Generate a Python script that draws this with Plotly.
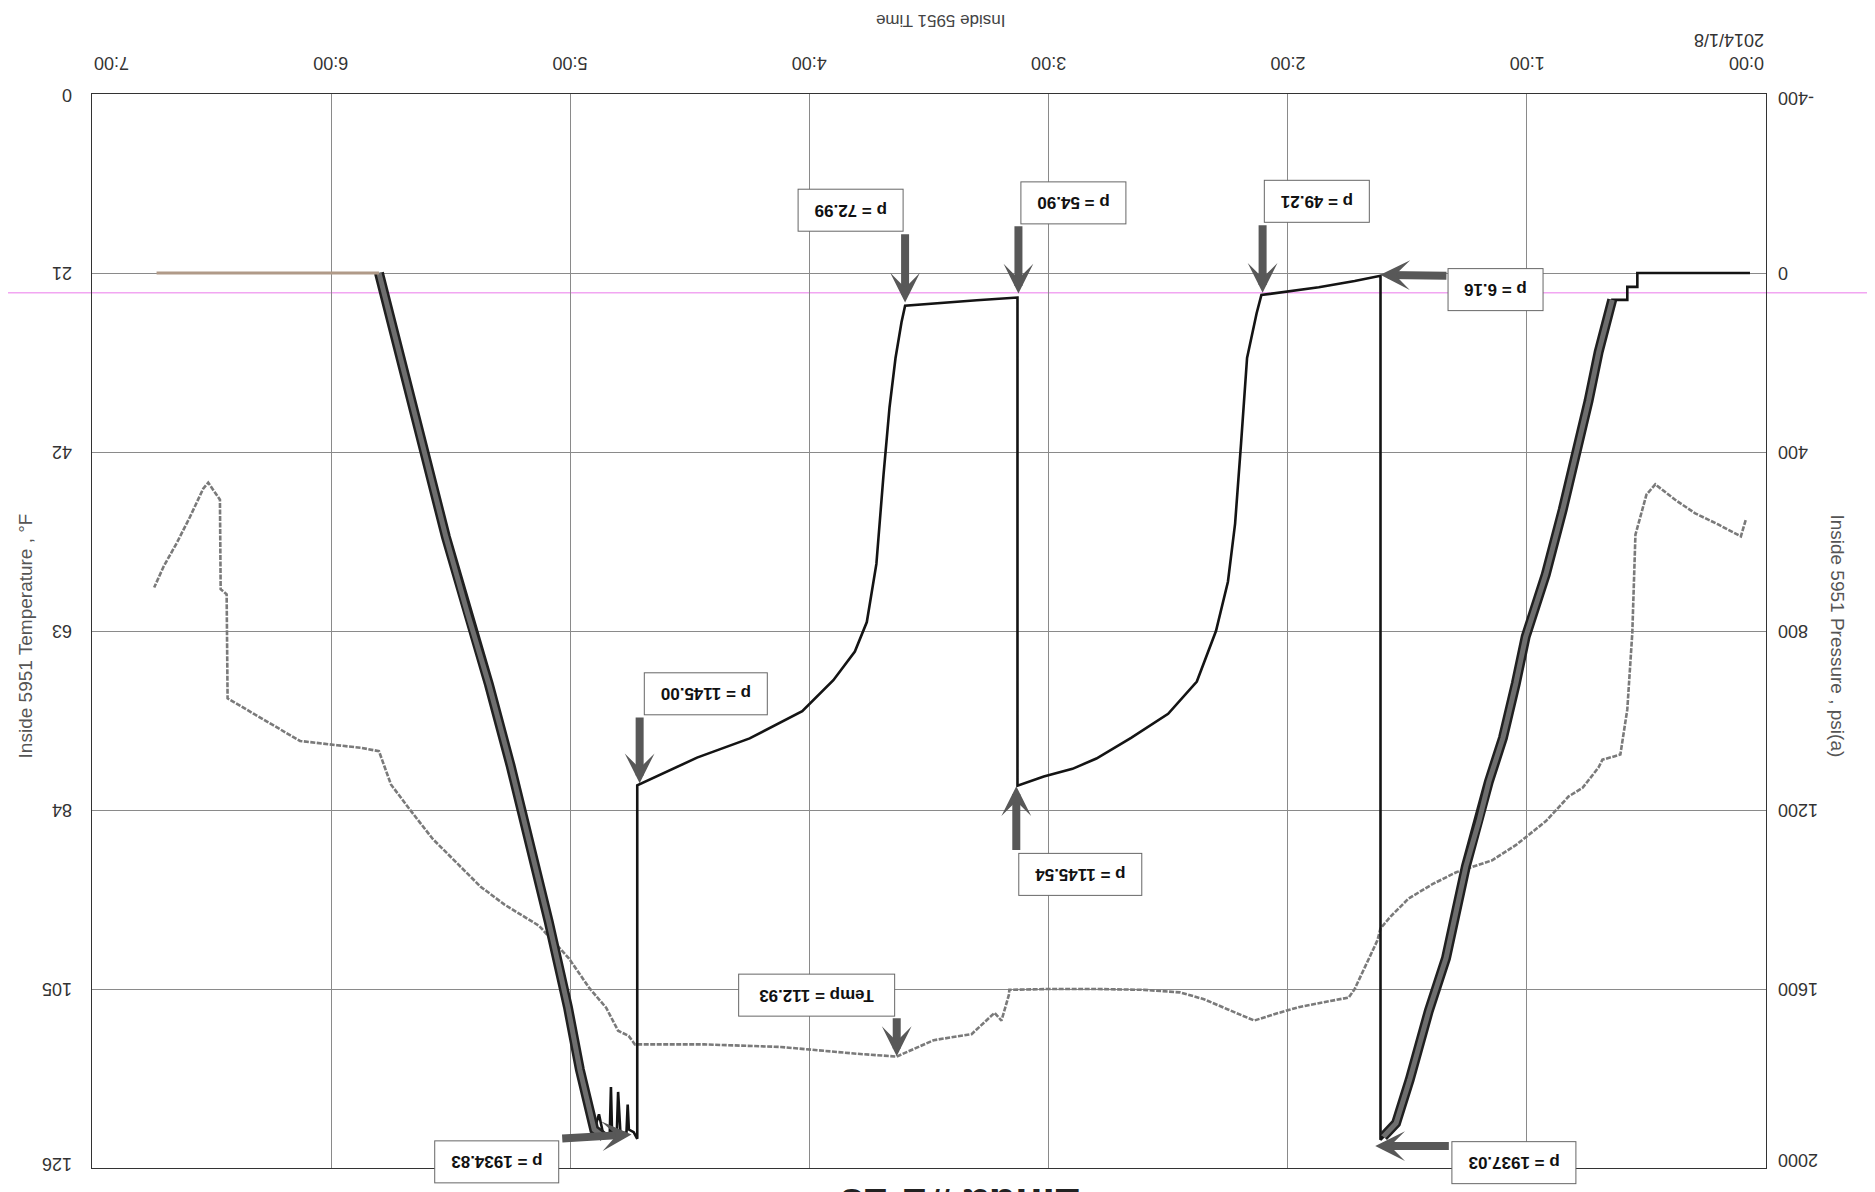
import plotly.graph_objects as go

# ---------------- data ----------------
hour_ticks = [0, 1, 2, 3, 4, 5, 6, 7]
hour_labels = ["0:00<br>2014/1/8", "1:00", "2:00", "3:00", "4:00", "5:00", "6:00", "7:00"]
temp_ticks = [0, 21, 42, 63, 84, 105, 126]
press_ticks = [-400, 0, 400, 800, 1200, 1600, 2000]

# pressure (psi(a)) vs time (hours)
press_t = [0.067, 0.538, 0.538, 0.58, 0.58, 0.643, 0.70, 0.742, 0.804, 0.85, 0.921, 0.963,
           1.005, 1.046, 1.10, 1.159, 1.20, 1.255, 1.338, 1.41, 1.49, 1.547, 1.612, 1.612,
           1.72, 1.87, 2.00, 2.11, 2.13, 2.15, 2.17, 2.195, 2.22, 2.25, 2.30, 2.38, 2.50,
           2.655, 2.80, 2.90, 3.02, 3.13, 3.13, 3.30, 3.45, 3.60, 3.615, 3.64, 3.665, 3.69,
           3.72, 3.76, 3.81, 3.90, 4.03, 4.25, 4.47, 4.62, 4.72, 4.72, 4.735, 4.755, 4.76,
           4.765, 4.79, 4.80, 4.805, 4.825, 4.83, 4.835, 4.86, 4.88, 4.90, 4.96, 5.01, 5.09,
           5.17, 5.25, 5.34, 5.43, 5.52, 5.61, 5.70, 5.80]
press_p = [0, 0, 31, 31, 60, 60, 177, 286, 432, 529, 674, 740,
           813, 917, 1039, 1137, 1224, 1326, 1531, 1649, 1803, 1900, 1937.03, 6.16,
           18, 32, 42, 49.21, 90, 140, 190, 380, 560, 690, 800, 913, 985,
           1039, 1085, 1108, 1125, 1145.54, 54.90, 61, 67, 72.99, 110, 190, 300, 450,
           650, 780, 846, 910, 979, 1040, 1083, 1120, 1145.00, 1934.83, 1920, 1914, 1858,
           1920, 1925, 1830, 1915, 1930, 1819, 1925, 1930, 1880, 1914, 1780, 1640, 1450,
           1270, 1100, 920, 760, 590, 400, 200, 0]

# pressurisation / venting ramps (heavy stepped band)
ramp_up_t = [0.643, 0.70, 0.742, 0.804, 0.85, 0.921, 0.963, 1.005, 1.046, 1.10, 1.159,
             1.20, 1.255, 1.338, 1.41, 1.49, 1.547, 1.60]
ramp_up_p = [60, 177, 286, 432, 529, 674, 740, 813, 917, 1039, 1137,
             1224, 1326, 1531, 1649, 1803, 1900, 1930]
ramp_dn_t = [4.86, 4.90, 4.96, 5.01, 5.09, 5.17, 5.25, 5.34, 5.43, 5.52, 5.61, 5.70, 5.80]
ramp_dn_p = [1930, 1914, 1780, 1640, 1450, 1270, 1100, 920, 760, 590, 400, 200, 0]

# final hold at 0 psi
hold_t = [5.80, 6.73]
hold_p = [0, 0]

# temperature (deg F) vs time (hours)
temp_t = [0.085, 0.105, 0.20, 0.296, 0.38, 0.463, 0.50, 0.546, 0.559, 0.58, 0.609, 0.684,
          0.70, 0.767, 0.825, 0.92, 1.045, 1.145, 1.295, 1.395, 1.495, 1.57, 1.612, 1.625,
          1.67, 1.72, 1.745, 1.85, 1.95, 2.05, 2.14, 2.25, 2.35, 2.45, 2.60, 2.80, 3.00,
          3.164, 3.166, 3.197, 3.226, 3.322, 3.48, 3.635, 3.80, 4.12, 4.44, 4.73, 4.756,
          4.80, 4.85, 4.92, 5.006, 5.13, 5.275, 5.375, 5.475, 5.575, 5.675, 5.75, 5.80,
          5.875, 5.975, 6.13, 6.27, 6.41, 6.433, 6.437, 6.462, 6.465, 6.514, 6.535, 6.59,
          6.646, 6.70, 6.74]
temp_v = [50.0, 51.9, 50.5, 49.2, 47.6, 45.8, 47.0, 51.7, 63.2, 72.2, 77.5, 78.1,
          79.0, 81.4, 82.4, 85.3, 88.1, 89.9, 91.3, 92.7, 94.4, 96.5, 97.9, 99.3,
          102.0, 105.0, 106.0, 106.6, 107.1, 107.9, 108.7, 107.4, 106.2, 105.4, 105.1, 105.0, 105.0,
          105.1, 105.7, 108.7, 107.8, 110.3, 111.0, 112.93, 112.6, 111.8, 111.5, 111.5, 110.5,
          109.9, 107.2, 104.9, 101.4, 97.6, 95.1, 93.0, 90.2, 87.4, 83.8, 81.0, 77.1,
          76.7, 76.4, 75.9, 73.6, 71.2, 70.9, 58.7, 58.1, 47.6, 45.6, 46.3, 49.6,
          52.7, 55.4, 57.9]

# callouts: label, arrow head (t, p), arrow tail (t, p), box centre (t, p)
callout_text = ["p = 6.16", "p = 49.21", "p = 54.90", "p = 72.99", "p = 1145.00",
                "p = 1145.54", "Temp = 112.93", "p = 1934.83", "p = 1937.03"]
callout_head_t = [1.613, 2.105, 3.126, 3.60, 4.71, 3.135, 3.635, 4.744, 1.634]
callout_head_p = [4, 44, 46, 66, 1140, 1147, 1750, 1925, 1951]
callout_tail_t = [1.33, 2.105, 3.126, 3.60, 4.71, 3.135, 3.635, 5.04, 1.32]
callout_tail_p = [6, -110, -108, -90, 990, 1293, 1662, 1934, 1951]
callout_box_t = [1.13, 1.88, 2.897, 3.827, 4.435, 2.868, 3.968, 5.306, 1.055]
callout_box_p = [37, -160, -156, -140, 940, 1344, 1613, 1987, 1989]

FONT = "Liberation Sans, Arial, sans-serif"
TICKFONT = dict(family=FONT, size=18, color="#333")

fig = go.Figure()
fig.add_trace(go.Scatter(x=press_t, y=press_p, yaxis="y2", mode="lines",
                         line=dict(color="#141414", width=2.6), showlegend=False))
for rt, rp in ((ramp_up_t, ramp_up_p), (ramp_dn_t, ramp_dn_p)):
    fig.add_trace(go.Scatter(x=rt, y=rp, yaxis="y2", mode="lines",
                             line=dict(color="#202020", width=10), showlegend=False))
    fig.add_trace(go.Scatter(x=rt, y=rp, yaxis="y2", mode="lines",
                             line=dict(color="#6e6e6e", width=5), showlegend=False))
fig.add_trace(go.Scatter(x=hold_t, y=hold_p, yaxis="y2", mode="lines",
                         line=dict(color="#b09a88", width=3), showlegend=False))
fig.add_trace(go.Scatter(x=temp_t, y=temp_v, yaxis="y", mode="lines",
                         line=dict(color="#7a7a7a", width=2.6, dash="5px,1.5px"),
                         showlegend=False))

annotations = []
for i in range(len(callout_text)):
    annotations.append(dict(
        x=callout_head_t[i], y=callout_head_p[i], xref="x", yref="y2",
        ax=callout_tail_t[i], ay=callout_tail_p[i], axref="x", ayref="y2",
        text="", showarrow=True, arrowhead=3, arrowsize=0.62, arrowwidth=8,
        arrowcolor="#585858"))
    pad = "&nbsp;&nbsp;" if callout_text[i].startswith("Temp") else "&nbsp;"
    annotations.append(dict(
        x=callout_box_t[i], y=callout_box_p[i], xref="x", yref="y2",
        xanchor="center", yanchor="middle",
        text="<b>" + pad + callout_text[i] + pad + "</b>", showarrow=False, textangle=180,
        font=dict(family=FONT, size=17, color="#111"),
        bgcolor="white", bordercolor="#666", borderwidth=1, borderpad=11))

# tick labels (upside-down, as on the scanned sheet)
for v in temp_ticks:
    shift = -1 if v == temp_ticks[0] else (4 if v == temp_ticks[-1] else 0)
    annotations.append(dict(x=0, y=v, xref="paper", yref="y", xanchor="right", yanchor="middle",
                            xshift=-18, yshift=shift, text=str(v), showarrow=False,
                            textangle=180, font=TICKFONT))
for v in press_ticks:
    shift = -4 if v == press_ticks[0] else (8 if v == press_ticks[-1] else 0)
    annotations.append(dict(x=1, y=v, xref="paper", yref="y2", xanchor="left", yanchor="middle",
                            xshift=10, yshift=shift, text=str(v), showarrow=False,
                            textangle=180, font=TICKFONT))
for v, lab in zip(hour_ticks, hour_labels):
    anc = "right" if v == hour_ticks[0] else ("left" if v == hour_ticks[-1] else "center")
    annotations.append(dict(x=v, y=1, xref="x", yref="paper", xanchor=anc, yanchor="bottom",
                            yshift=19, text=lab, align="left", showarrow=False,
                            textangle=180, font=TICKFONT))

annotations += [
    dict(text="Inside 5951 Temperature , °F", x=-0.04, y=0.495, xref="paper", yref="paper",
         xanchor="center", yanchor="middle", showarrow=False, textangle=-90,
         font=dict(family=FONT, size=19, color="#555")),
    dict(text="Inside 5951 Pressure , psi(a)", x=1.043, y=0.495, xref="paper", yref="paper",
         xanchor="center", yanchor="middle", showarrow=False, textangle=90,
         font=dict(family=FONT, size=19, color="#555")),
    dict(text="Inside 5951 Time", x=0.507, y=1.069, xref="paper", yref="paper",
         xanchor="center", yanchor="middle", showarrow=False, textangle=180,
         font=dict(family=FONT, size=17, color="#444")),
    dict(text="<b>Linda #1-13</b>", x=0.519, y=-0.0345, xref="paper", yref="paper",
         xanchor="center", yanchor="middle", showarrow=False, textangle=180,
         font=dict(family=FONT, size=44, color="#222")),
]

fig.update_layout(
    width=1875, height=1192,
    margin=dict(l=84, r=117, t=86, b=32, autoexpand=False),
    paper_bgcolor="white", plot_bgcolor="white",
    font=dict(family=FONT, size=18, color="#333"),
    xaxis=dict(range=[7, 0], side="top", tickvals=hour_ticks, showticklabels=False,
               showgrid=True, gridcolor="#8a8a8a", gridwidth=1,
               showline=True, linecolor="#333", linewidth=1, mirror=True,
               ticks="", zeroline=False),
    yaxis=dict(range=[126, 0], tickvals=temp_ticks, showticklabels=False,
               showgrid=True, gridcolor="#8a8a8a", gridwidth=1,
               showline=True, linecolor="#333", linewidth=1, mirror=True,
               ticks="", zeroline=False),
    yaxis2=dict(range=[2000, -400], tickvals=press_ticks, showticklabels=False,
                overlaying="y", side="right", showgrid=False, zeroline=False,
                ticks="", showline=False),
    annotations=annotations,
    shapes=[dict(type="line", xref="paper", yref="y2", x0=-0.06, x1=1.08, y0=44, y1=44,
                 line=dict(color="#f2a6f2", width=1.5), layer="below")],
)

fig.write_html("out.html")
